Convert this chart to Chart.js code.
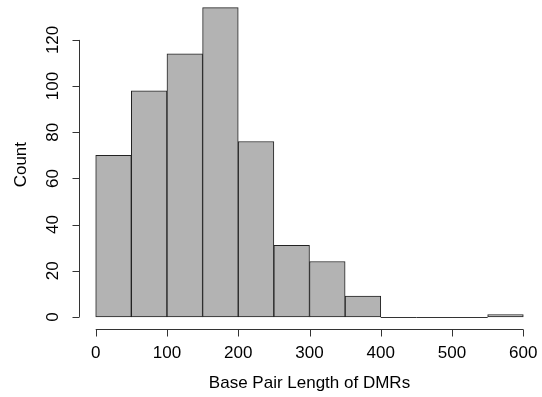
<!DOCTYPE html>
<html>
<head>
<meta charset="utf-8">
<script src="https://cdn.jsdelivr.net/npm/chart.js@4/dist/chart.umd.min.js"></script>
<style>
  html, body { margin: 0; padding: 0; background: #fff; }
  #wrap { width: 542px; height: 397px; }
</style>
</head>
<body>
<div id="wrap"><canvas id="container"></canvas></div>
<script>
// histogram bins (left edges, width 50) and counts
const binStarts = [0, 50, 100, 150, 200, 250, 300, 350, 400, 450, 500, 550];
const binWidth = 50;
const counts = [70, 98, 114, 134, 76, 31, 24, 9, 0, 0, 0, 1];
const xTicks = [0, 100, 200, 300, 400, 500, 600];
const yTicks = [0, 20, 40, 60, 80, 100, 120];
const xTitle = "Base Pair Length of DMRs";
const yTitle = "Count";

const FONT = '17px "Liberation Sans", Arial, Helvetica, sans-serif';
const INK = '#333333';

// R-style detached axes, drawn with the chart's own scales
const rAxes = {
    id: 'rAxes',
    afterDraw(chart) {
        const c = chart.ctx;
        const xs = chart.scales.x;
        const ys = chart.scales.y;
        const area = chart.chartArea;
        c.save();
        c.strokeStyle = INK;
        c.fillStyle = '#000';
        c.lineWidth = 1;
        c.font = FONT;

        // empty bins drawn as flat rects
        c.strokeStyle = '#333';
        binStarts.forEach(function(s, i) {
            if (counts[i] === 0) {
                const y0 = Math.round(ys.getPixelForValue(0)) + 0.5;
                c.beginPath();
                c.moveTo(xs.getPixelForValue(s), y0);
                c.lineTo(xs.getPixelForValue(s + binWidth), y0);
                c.stroke();
            }
        });

        // x axis
        c.strokeStyle = INK;
        const ay = Math.round(area.bottom) + 0.5;
        c.beginPath();
        c.moveTo(xs.getPixelForValue(xTicks[0]), ay);
        c.lineTo(xs.getPixelForValue(xTicks[xTicks.length - 1]), ay);
        xTicks.forEach(function(t) {
            const px = Math.round(xs.getPixelForValue(t)) + 0.5;
            c.moveTo(px, ay);
            c.lineTo(px, ay + 7);
        });
        c.stroke();
        c.textAlign = 'center';
        c.textBaseline = 'middle';
        xTicks.forEach(function(t) {
            c.fillText(String(t), xs.getPixelForValue(t), 353);
        });
        c.fillText(xTitle, (xs.getPixelForValue(xTicks[0]) + xs.getPixelForValue(xTicks[xTicks.length - 1])) / 2, 383);

        // y axis
        const ax = Math.round(area.left) + 0.5;
        c.beginPath();
        c.moveTo(ax, ys.getPixelForValue(yTicks[0]));
        c.lineTo(ax, ys.getPixelForValue(yTicks[yTicks.length - 1]));
        yTicks.forEach(function(t) {
            const py = Math.round(ys.getPixelForValue(t)) + 0.5;
            c.moveTo(ax, py);
            c.lineTo(ax - 7, py);
        });
        c.stroke();
        yTicks.forEach(function(t) {
            c.save();
            c.translate(53, ys.getPixelForValue(t));
            c.rotate(-Math.PI / 2);
            c.fillText(String(t), 0, 0);
            c.restore();
        });
        c.save();
        c.translate(21, (area.top + area.bottom) / 2);
        c.rotate(-Math.PI / 2);
        c.fillText(yTitle, 0, 0);
        c.restore();

        c.restore();
    }
};

const ctx = document.getElementById('container').getContext('2d');

var chart = new Chart(ctx, {
    type: 'bar',
    data: {
        datasets: [{
            data: binStarts.map(function(s, i) {
                return { x: s + binWidth / 2, y: counts[i] };
            }),
            backgroundColor: '#b3b3b3',
            borderColor: '#222222',
            borderWidth: 1,
            borderSkipped: false,
            barPercentage: 1,
            categoryPercentage: 1
        }]
    },
    options: {
        responsive: true,
        maintainAspectRatio: false,
        animation: false,
        layout: {
            padding: { left: 78.6, right: 1.6, top: 0, bottom: 67.7 }
        },
        plugins: {
            legend: { display: false },
            tooltip: { enabled: false }
        },
        scales: {
            x: {
                type: 'linear',
                display: false,
                offset: false,
                min: -24,
                max: 624
            },
            y: {
                display: false,
                min: -5.36,
                max: 137.3
            }
        }
    },
    plugins: [rAxes]
});
</script>
</body>
</html>
